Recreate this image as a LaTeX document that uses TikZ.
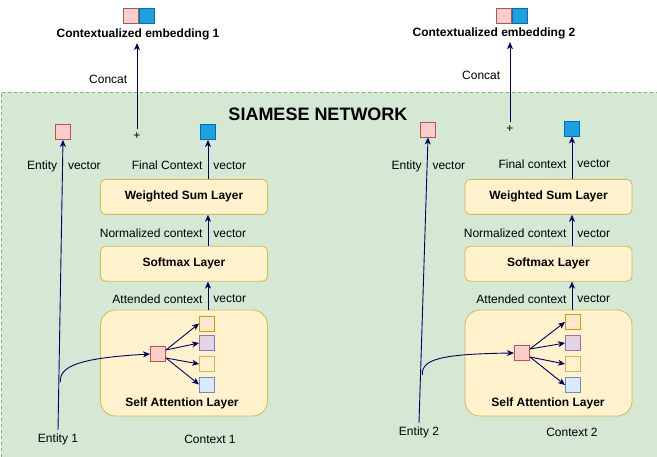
\documentclass[tikz,border=0pt]{standalone}
\usepackage{fontspec}
\setmainfont{Liberation Sans}
\usepackage{xcolor}
\usepackage{tikz}
\usetikzlibrary{arrows.meta, positioning, calc}

\definecolor{regionfill}{HTML}{D5E8D4}
\definecolor{regionline}{HTML}{82B366}
\definecolor{layerfill}{HTML}{FFF2CC}
\definecolor{layerline}{HTML}{D6B656}
\definecolor{pinkfill}{HTML}{F8CECC}
\definecolor{pinkline}{HTML}{B85450}
\definecolor{bluefill}{HTML}{1BA1E2}
\definecolor{blueline}{HTML}{006EAF}
\definecolor{orangefill}{HTML}{FFE6CC}
\definecolor{orangeline}{HTML}{D79B00}
\definecolor{purplefill}{HTML}{E1D5E7}
\definecolor{purpleline}{HTML}{9673A6}
\definecolor{lightfill}{HTML}{DAE8FC}
\definecolor{lightline}{HTML}{6C8EBF}
\definecolor{edgecolor}{HTML}{000066}

\begin{document}
\begin{tikzpicture}[x=1pt, y=-1pt, font=\fontsize{12}{14}\selectfont,
    region/.style={rectangle, draw=regionline, fill=regionfill, dashed, line width=0.8pt, anchor=north west, minimum width=670pt, minimum height=380pt},
    layer/.style={rectangle, draw=layerline, fill=layerfill, line width=0.8pt, minimum width=167pt, minimum height=35pt, rounded corners=5pt, font=\fontsize{12}{14}\selectfont\bfseries},
    attn/.style={layer, minimum height=106pt, rounded corners=15pt},
    vec/.style={rectangle, draw, line width=0.9pt, minimum size=15pt, inner sep=0pt},
    pinkvec/.style={vec, draw=pinkline, fill=pinkfill},
    bluevec/.style={vec, draw=blueline, fill=bluefill},
    orangevec/.style={vec, draw=orangeline, fill=orangefill},
    purplevec/.style={vec, draw=purpleline, fill=purplefill},
    yellowvec/.style={vec, draw=layerline, fill=layerfill},
    lightvec/.style={vec, draw=lightline, fill=lightfill},
    title/.style={font=\fontsize{12}{14}\selectfont\bfseries},
    arrow/.style={-{Stealth[length=7pt, width=6pt, inset=2pt]}, line width=0.9pt, color=edgecolor},
    lefttxt/.style={left=4pt, inner sep=1pt, text=black},
    righttxt/.style={right=4pt, inner sep=1pt, text=black}
]
    \useasboundingbox (0,0) rectangle (657,457);

    % Siamese region
    \node[region] (siamese) at (1,92) {};
    \node[font=\fontsize{18}{20}\selectfont\bfseries] (siamtitle) at (318,114) {SIAMESE NETWORK};

    % ---------- Left branch ----------
    % Layers
    \node[attn] (sa1) at (184,363) {};
    \node[title] (sal1) at (182,403) {Self Attention Layer};
    \node[layer, above=28pt of sa1] (sm1) {Softmax Layer};
    \node[layer, above=31pt of sm1] (ws1) {Weighted Sum Layer};

    % Attention vectors
    \node[pinkvec] (q1) at (158,354) {};
    \node[orangevec] (att1a) at (207,323.5) {};
    \node[purplevec] (att1b) at (207,343) {};
    \node[yellowvec] (att1c) at (207,364) {};
    \node[lightvec] (att1d) at (207,384.5) {};

    % Inputs
    \node (ent1) at (58,439) {Entity 1};
    \node (ctx1) at (210,439) {Context 1};

    % Output vectors
    \node[pinkvec] (ev1) at (63,132) {};
    \node (plus1) at (137,136) {+};
    \node[bluevec] (fc1) at (208,132) {};

    % Contextualized embedding
    \node[pinkvec] (cp1) at (131,16) {};
    \node[bluevec, right=0pt of cp1] (cb1) {};
    \node[title] (emb1) at (138,34) {Contextualized embedding 1};

    % Connections
    \draw[arrow] (ent1.north) -- (ev1.south)
        node[pos=.91, lefttxt] {Entity} node[pos=.91, righttxt] {vector};
    \coordinate (tap1) at (60.5,382);
    \draw[arrow] (tap1) .. controls (59,366) and (80,358) .. (q1.west);
    \draw[arrow] ([yshift=4pt]q1.east) -- (att1a.west);
    \draw[arrow] ([yshift=4pt]q1.east) -- (att1b.west);
    \draw[arrow] ([yshift=-4pt]q1.east) -- (att1c.west);
    \draw[arrow] ([yshift=-4pt]q1.east) -- (att1d.west);
    \draw[arrow] (sa1.north -| fc1) -- (sm1.south -| fc1)
        node[pos=.38, lefttxt] {Attended context} node[pos=.38, righttxt] {vector};
    \draw[arrow] (sm1.north -| fc1) -- (ws1.south -| fc1)
        node[pos=.4, lefttxt] {Normalized context} node[pos=.4, righttxt] {vector};
    \draw[arrow] (ws1.north -| fc1) -- (fc1.south)
        node[pos=.35, lefttxt] {Final Context} node[pos=.35, righttxt] {vector};
    \draw[arrow] (plus1.north) -- (plus1.north |- emb1.south)
        node[pos=.58, left=6pt, text=black] {Concat};

    % ---------- Right branch ----------
    % Layers
    \node[attn] (sa2) at (548.5,363) {};
    \node[title] (sal2) at (548,403) {Self Attention Layer};
    \node[layer, above=28pt of sa2] (sm2) {Softmax Layer};
    \node[layer, above=31pt of sm2] (ws2) {Weighted Sum Layer};

    % Attention vectors
    \node[pinkvec] (q2) at (522,353) {};
    \node[orangevec] (att2a) at (573,322) {};
    \node[purplevec] (att2b) at (573,343) {};
    \node[yellowvec] (att2c) at (573,364) {};
    \node[lightvec] (att2d) at (573,385) {};

    % Inputs
    \node (ent2) at (419,432) {Entity 2};
    \node (ctx2) at (572,432) {Context 2};

    % Output vectors
    \node[pinkvec] (ev2) at (428,129.5) {};
    \node (plus2) at (510,129) {+};
    \node[bluevec] (fc2) at (572,128.5) {};

    % Contextualized embedding
    \node[pinkvec] (cp2) at (504,16) {};
    \node[bluevec, right=0pt of cp2] (cb2) {};
    \node[title] (emb2) at (494,33) {Contextualized embedding 2};

    % Connections
    \draw[arrow] (ent2.north) -- (ev2.south)
        node[pos=.9, lefttxt] {Entity} node[pos=.9, righttxt] {vector};
    \coordinate (tap2) at (422.5,375);
    \draw[arrow] (tap2) .. controls (421,359) and (442,354) .. (q2.west);
    \draw[arrow] ([yshift=4pt]q2.east) -- (att2a.west);
    \draw[arrow] ([yshift=4pt]q2.east) -- (att2b.west);
    \draw[arrow] ([yshift=-4pt]q2.east) -- (att2c.west);
    \draw[arrow] ([yshift=-4pt]q2.east) -- (att2d.west);
    \draw[arrow] (sa2.north -| fc2) -- (sm2.south -| fc2)
        node[pos=.38, lefttxt] {Attended context} node[pos=.38, righttxt] {vector};
    \draw[arrow] (sm2.north -| fc2) -- (ws2.south -| fc2)
        node[pos=.4, lefttxt] {Normalized context} node[pos=.4, righttxt] {vector};
    \draw[arrow] (ws2.north -| fc2) -- (fc2.south)
        node[pos=.35, lefttxt] {Final context} node[pos=.35, righttxt] {vector};
    \draw[arrow] (plus2.north) -- (plus2.north |- emb2.south)
        node[pos=.58, left=6pt, text=black] {Concat};

\end{tikzpicture}
\end{document}
